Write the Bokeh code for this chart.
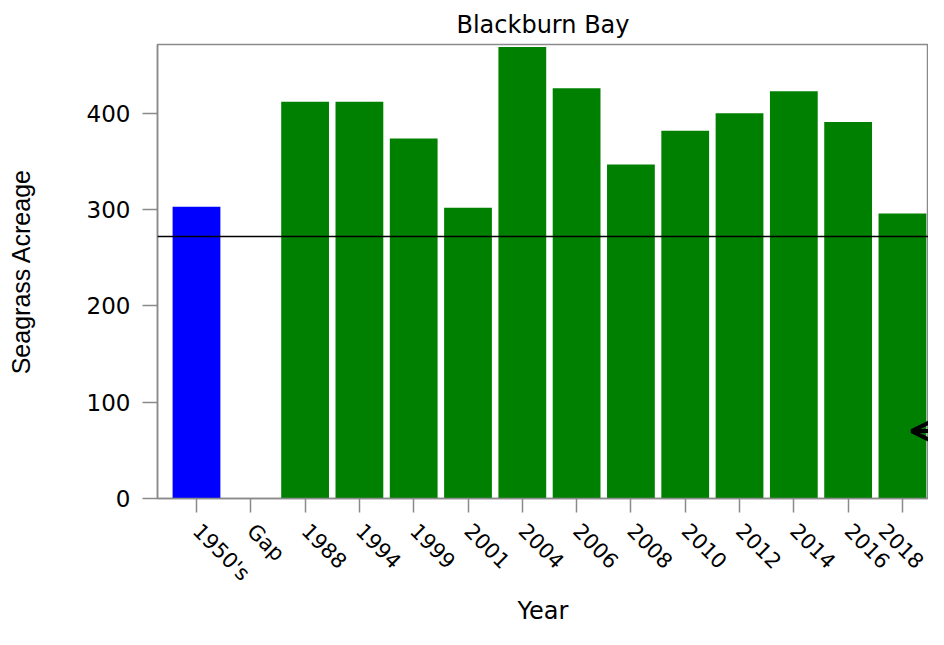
import math
from bokeh.plotting import figure
from bokeh.models import Range1d, FixedTicker, Span, Arrow, OpenHead, ColumnDataSource
from bokeh.embed import file_html
from bokeh.resources import INLINE

# ---- data ----
categories = ["1950's", "Gap", "1988", "1994", "1999", "2001", "2004",
              "2006", "2008", "2010", "2012", "2014", "2016", "2018"]
acreage = [303, None, 412, 412, 374, 302, 469, 426, 347, 382, 400, 423, 391, 296]
bar_colors = ["#0000FF", None, "#008000", "#008000", "#008000", "#008000", "#008000",
              "#008000", "#008000", "#008000", "#008000", "#008000", "#008000", "#008000"]
reference_level = 272
y_ticks = [0, 100, 200, 300, 400]
arrow_y = 70
arrow_x = 13.17

positions = list(range(len(categories)))
xs, tops, cols = [], [], []
for i, (v, c) in enumerate(zip(acreage, bar_colors)):
    if v is not None:
        xs.append(positions[i])
        tops.append(v)
        cols.append(c)
src = ColumnDataSource(data=dict(x=xs, top=tops, color=cols))

FONT = "DejaVu Sans"

p = figure(width=928, height=629, output_backend="svg", toolbar_location=None,
           x_range=Range1d(-0.718, 13.48), y_range=Range1d(0, 471.5),
           min_border_left=157, min_border_right=0, min_border_top=44, min_border_bottom=131,
           title="Blackburn Bay")

p.vbar(x="x", top="top", width=0.88, color="color", source=src, line_color=None)

p.add_layout(Span(location=reference_level, dimension="width", line_color="black", line_width=1.5))

p.add_layout(Arrow(end=OpenHead(size=22, line_width=4, line_color="black"),
                   x_start=arrow_x + 1.0, y_start=arrow_y, x_end=arrow_x, y_end=arrow_y,
                   line_width=4, line_color="black"))

# title
p.title.text_font = FONT
p.title.text_font_size = "24px"
p.title.text_font_style = "normal"
p.title.align = "center"
p.title.standoff = 12
p.title.text_color = "black"

p.xgrid.visible = False
p.ygrid.visible = False
p.outline_line_color = "#8a8a8a"
p.outline_line_width = 1.5
p.background_fill_color = "white"
p.border_fill_color = "white"

# x axis
xa = p.xaxis[0]
xa.ticker = FixedTicker(ticks=positions)
xa.major_label_overrides = {i: c for i, c in enumerate(categories)}
xa.major_label_orientation = -math.pi / 4
xa.major_label_text_font = FONT
xa.major_label_text_font_size = "21px"
xa.major_label_text_color = "black"
xa.major_label_standoff = 15
xa.major_tick_out = 14
xa.major_tick_in = 0
xa.minor_tick_out = 0
xa.minor_tick_in = 0
xa.axis_line_color = "#8a8a8a"
xa.axis_line_width = 1.5
xa.major_tick_line_color = "#8a8a8a"
xa.major_tick_line_width = 1.5
xa.axis_label = "Year"
xa.axis_label_text_font = FONT
xa.axis_label_text_font_size = "24px"
xa.axis_label_text_font_style = "normal"
xa.axis_label_text_color = "black"
xa.axis_label_standoff = 0

# y axis
ya = p.yaxis[0]
ya.ticker = FixedTicker(ticks=y_ticks)
ya.major_label_text_font = FONT
ya.major_label_text_font_size = "23px"
ya.major_label_text_color = "black"
ya.major_label_standoff = 12
ya.major_tick_out = 15
ya.major_tick_in = 0
ya.minor_tick_out = 0
ya.minor_tick_in = 0
ya.axis_line_color = "#8a8a8a"
ya.axis_line_width = 1.5
ya.major_tick_line_color = "#8a8a8a"
ya.major_tick_line_width = 1.5
ya.axis_label = "Seagrass Acreage"
ya.axis_label_text_font = "Liberation Sans"
ya.axis_label_text_font_size = "25px"
ya.axis_label_text_font_style = "normal"
ya.axis_label_text_color = "black"
ya.axis_label_standoff = 49

open("out.html", "w").write(file_html(p, INLINE))
